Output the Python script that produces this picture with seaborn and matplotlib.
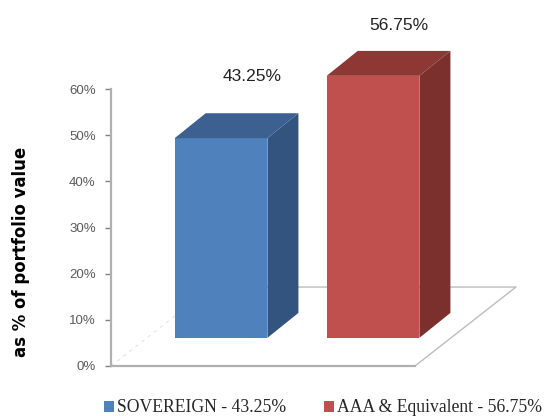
import matplotlib
matplotlib.use('Agg')
import matplotlib.pyplot as plt
import seaborn as sns
from matplotlib.patches import Polygon

categories = ['SOVEREIGN - 43.25%', 'AAA & Equivalent - 56.75%']
values = [43.25, 56.75]
value_labels = ['43.25%', '56.75%']
y_ticks = [0, 10, 20, 30, 40, 50, 60]
front_colors = ['#4F81BD', '#C0504D']
side_colors = ['#32547F', '#7B302E']
top_colors = ['#3C6090', '#8E3835']

W, H = 544, 416
BAR_BASE = 6.1
BAR_DX, BAR_DY = 0.204, 5.4
FLOOR_DX, FLOOR_DY = 0.664, 17.1

sns.set_theme(style='white')
plt.rcParams['font.family'] = ['Liberation Sans', 'DejaVu Sans']

fig = plt.figure(figsize=(W / 100, H / 100), dpi=100)
ax = fig.add_axes([111 / W, (H - 366) / H, 304 / W, 277 / H])

sns.barplot(x=categories, y=values, hue=categories, palette=front_colors,
            width=0.61, bottom=BAR_BASE, legend=False, saturation=1, linewidth=0,
            clip_on=False, ax=ax, zorder=3)
ax.set_xlim(-0.724, 1.276)
ax.set_ylim(0, 60)

# floor of the fake 3d box
x0, x1 = ax.get_xlim()
ax.plot([x1, x1 + FLOOR_DX, x0 + FLOOR_DX], [0, FLOOR_DY, FLOOR_DY], color='#BDBDBD', lw=1,
        clip_on=False, zorder=2)
ax.plot([x0, x0 + FLOOR_DX], [0, FLOOR_DY], color='#E4E4E4', lw=0.8, ls=(0, (3, 4)),
        clip_on=False, zorder=2)

# side and top faces taken from each bar, label offsets differ per bar in the original
label_shift = [(0.204, 8.0), (0.171, 5.4)]
bars = list(ax.patches)[:2]
for bar, side, top, label, shift in zip(bars, side_colors, top_colors, value_labels, label_shift):
    left = bar.get_x()
    right = left + bar.get_width()
    low = bar.get_y()
    high = low + bar.get_height()
    ax.add_patch(Polygon([(right, low), (right + BAR_DX, low + BAR_DY),
                          (right + BAR_DX, high + BAR_DY), (right, high)],
                         fc=side, ec='none', clip_on=False, zorder=3))
    ax.add_patch(Polygon([(left, high), (left + BAR_DX, high + BAR_DY),
                          (right + BAR_DX, high + BAR_DY), (right, high)],
                         fc=top, ec='none', clip_on=False, zorder=3))
    ax.text((left + right) / 2 + shift[0], high + BAR_DY + shift[1], label, ha='center',
            va='center', fontsize=12.5, color='#222222', clip_on=False)

sns.despine(ax=ax)
ax.patch.set_alpha(0)
for name in ['left', 'bottom']:
    ax.spines[name].set_color('#B0B0B0')
    ax.spines[name].set_linewidth(1.6)

ax.set_yticks(y_ticks)
ax.set_yticklabels([f'{t}%' for t in y_ticks])
ax.set_xticks([])
ax.tick_params(axis='y', left=True, length=4, width=1, color='#808080', pad=7,
               labelsize=9.5, labelcolor='#5A5A5A')
ax.set_ylabel('as % of portfolio value', fontsize=11.9, fontweight='bold', color='black',
              family='DejaVu Sans')
ax.yaxis.set_label_coords(30 / W, (H - 252) / H, transform=fig.transFigure)

handles = bars
fig.legend(handles, categories, ncol=2, loc='center left', bbox_to_anchor=(104 / W, (H - 408) / H),
           frameon=False, handlelength=0.57, handleheight=0.57, handletextpad=0.15,
           columnspacing=2.16, borderpad=0, borderaxespad=0,
           prop={'family': 'Liberation Serif', 'size': 12.7})

fig.savefig('out.png', dpi=100)
